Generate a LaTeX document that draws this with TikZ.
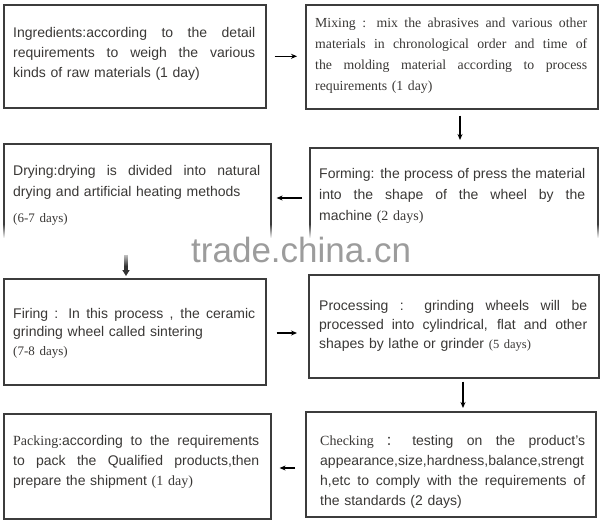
\documentclass[tikz,border=0pt]{standalone}
\usepackage{fontspec}
\setmainfont{Liberation Sans}
\newfontfamily\sr{Liberation Serif}
\newfontfamily\cjk{Noto Sans CJK SC}
\usetikzlibrary{arrows.meta,fadings}
\definecolor{bordc}{HTML}{3C3C3C}
\definecolor{txtc}{HTML}{3A3836}
\definecolor{wmc}{HTML}{9C9C9C}
\newcommand\jl[1]{\makebox[\hsize][s]{\spaceskip=0pt\xspaceskip=0pt #1}\\}
\tikzfading[name=fadein, top color=transparent!100, bottom color=transparent!0]
\tikzfading[name=fadeout, top color=transparent!0, bottom color=transparent!100]
\begin{document}
\begin{tikzpicture}[x=1bp,y=-1bp,
  box/.style={draw=bordc, line width=1.6bp, fill=white, inner sep=0, anchor=north west},
  txt/.style={anchor=north west, inner sep=0, text=txtc, align=left},
  sans/.style={font=\fontsize{14bp}{#1}\selectfont},
  arr/.style={-{Stealth[length=6bp,width=5bp]}, line width=1.1bp, draw=black}]
\useasboundingbox (0,0) rectangle (600,521);
\fill[white] (0,0) rectangle (600,521);
% boxes
\node[box, minimum width=262bp, minimum height=103bp] (ing) at (3,4) {};
\node[box, minimum width=292bp, minimum height=104bp] (mix) at (305,4) {};
\node[box, minimum width=288bp, minimum height=106bp] (form) at (309,147) {};
\node[box, minimum width=267bp, minimum height=110bp] (dry) at (3,143) {};
\node[box, minimum width=262bp, minimum height=106bp] (fire) at (3,278) {};
\node[box, minimum width=290bp, minimum height=103bp] (proc) at (308,274) {};
\node[box, minimum width=290bp, minimum height=105bp] (chk) at (305,411) {};
\node[box, minimum width=267bp, minimum height=105bp] (pack) at (3,413) {};
% texts
\node[txt, sans=20bp, text width=242bp] (tIng) at (13,27) {%
\jl{Ingredients:according to the detail}
\jl{requirements to weigh the various}
kinds of raw materials (1 day)};
\node[txt, font=\sr\fontsize{13.8bp}{21bp}\selectfont, text width=272bp] (tMix) at (315,18) {%
\jl{Mixing : mix the abrasives and various other}
\jl{materials in chronological order and time of}
\jl{the molding material according to process}
requirements (1 day)};
\node[txt, sans=21bp, text width=266bp] (tForm) at (319,168) {%
\jl{Forming: the process of press the material}
\jl{into the shape of the wheel by the}
machine {\sr (2 days)}};
\node[txt, sans=21bp, text width=247bp] (tDry) at (13,165) {%
\jl{Drying:drying is divided into natural}
drying and artificial heating methods\\[5bp]
{\sr\fontsize{13bp}{21bp}\selectfont (6-7 days)}};
\node[txt, sans=18bp, text width=242bp] (tFire) at (13,308) {%
\jl{Firing : In this process , the ceramic}
grinding wheel called sintering\\[1bp]
{\sr\fontsize{13bp}{18bp}\selectfont (7-8 days)}};
\node[txt, sans=19bp, text width=268bp] (tProc) at (319,300) {%
\jl{Processing : grinding wheels will be}
\jl{processed into cylindrical, flat and other}
shapes by lathe or grinder {\sr\fontsize{12.5bp}{19bp}\selectfont (5 days)}};
\node[txt, sans=20bp, text width=265bp] (tChk) at (320,435) {%
\jl{{\sr Checking \cjk\fontsize{13bp}{20bp}\selectfont ：} testing on the product's}
appearance,size,hardness,balance,strengt\\
\jl{h,etc to comply with the requirements of}
the standards (2 days)};
\node[txt, sans=20bp, text width=246bp] (tPack) at (13,435) {%
\jl{{\sr Packing:}according to the requirements}
\jl{to pack the Qualified products,then}
prepare the shipment {\sr (1 day)}};
% watermark band
\fill[white, path fading=fadein] (0,224) rectangle (600,238);
\fill[white] (0,237.5) rectangle (600,268);
\node[anchor=base west, inner sep=0, text=wmc, font=\fontsize{35bp}{35bp}\selectfont] (wm) at (191,262) {trade.china.cn};
% connector anchor coordinates
\coordinate (c2) at (460,0);
\coordinate (c3) at (0,198);
\coordinate (c4) at (126,0);
\coordinate (c5) at (0,333);
\coordinate (c6) at (463,0);
\coordinate (c7) at (0,468);
% connectors
\draw[arr, shorten <=8bp, shorten >=8bp] (ing.east) -- (ing.east -| mix.west);
\draw[arr, shorten <=6bp, shorten >=7bp] (mix.south -| c2) -- (form.north -| c2);
\draw[arr, shorten <=7bp, shorten >=5bp] (form.west |- c3) -- (dry.east |- c3);
\draw[-{Triangle[length=6bp,width=7bp]}, line width=4bp, draw=black!80, shorten >=2bp] (dry.south -| c4) -- (fire.north -| c4);
\fill[white, path fading=fadeout] (119,250) rectangle (133,266);
\draw[arr, shorten <=10bp, shorten >=11bp] (fire.east |- c5) -- (proc.west |- c5);
\draw[arr, shorten <=3bp, shorten >=3bp] (proc.south -| c6) -- (chk.north -| c6);
\draw[arr, shorten <=10bp, shorten >=8bp] (chk.west |- c7) -- (pack.east |- c7);
\end{tikzpicture}
\end{document}
